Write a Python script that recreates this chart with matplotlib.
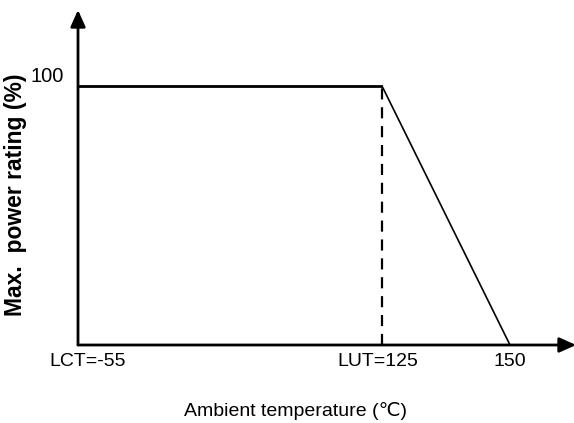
import numpy as np
import matplotlib
matplotlib.use("Agg")
import matplotlib.pyplot as plt
import matplotlib.transforms as mtransforms
from matplotlib.scale import FuncScale

# Data (schematic derating curve)
temps = [-55, 125, 150]          # ambient temperature (°C)
power = [100, 100, 0]            # max. power rating (%)
lut = 125
tick_vals = [-55, 125, 150]
tick_labels = ["LCT=-55", "LUT=125", "150"]
ytick_vals = [100]
ytick_labels = ["100"]

# schematic (non-linear) x spacing
knots_t = np.array([-55.0, 125.0, 150.0])
knots_p = np.array([0.0, 304.0, 432.0])

def fwd(t):
    t = np.asarray(t, dtype=float)
    return np.interp(t, knots_t, knots_p)

def inv(p):
    p = np.asarray(p, dtype=float)
    return np.interp(p, knots_p, knots_t)

W, H = 574, 423
fig = plt.figure(figsize=(W / 100, H / 100), dpi=100)
left, right = 78, 510
bottom, top = 345, 10
ax = fig.add_axes([left / W, 1 - bottom / H, (right - left) / W, (bottom - top) / H])
ax.set_xscale(FuncScale(ax, (fwd, inv)))
ax.set_xlim(-55, 150)
ax.set_ylim(0, 100 * (bottom - top) / (bottom - 86))

for s in ax.spines.values():
    s.set_visible(False)

# curve
ax.plot(temps[:2], power[:2], color="black", lw=2.0, solid_capstyle="butt", clip_on=False)
ax.plot(temps[1:], power[1:], color="black", lw=1.2, clip_on=False)
ax.plot([lut, lut], [0, 100], color="black", lw=1.6, dashes=(5, 3.5))

# axes with arrows
ax.annotate("", xy=((W + 2 - left) / (right - left), 0), xytext=(0, 0),
            xycoords="axes fraction",
            arrowprops=dict(arrowstyle="-|>,head_length=1.0,head_width=0.45",
                            lw=2, color="black", shrinkA=0, shrinkB=0), annotation_clip=False)
ax.annotate("", xy=(0, 1), xytext=(0, 0), xycoords="axes fraction",
            arrowprops=dict(arrowstyle="-|>,head_length=1.0,head_width=0.45",
                            lw=2, color="black", shrinkA=0, shrinkB=0), annotation_clip=False)

sans = ["Liberation Sans", "DejaVu Sans"]
ax.set_xticks(tick_vals)
ax.set_xticklabels(tick_labels, fontsize=14, family=sans)
ax.set_yticks(ytick_vals)
ax.set_yticklabels(ytick_labels, fontsize=14.5, family=sans)
ax.tick_params(axis="both", length=0)
ax.tick_params(axis="x", pad=6)
ax.tick_params(axis="y", pad=10)
for lbl in ax.get_yticklabels():
    lbl.set_verticalalignment("bottom")
# shift first x tick label to the right a bit (as in the reference)
first = ax.get_xticklabels()[0]
first.set_transform(first.get_transform() +
                    mtransforms.ScaledTranslation(10 / 100, 0, fig.dpi_scale_trans))
xl = ax.get_xticklabels()[1]
xl.set_transform(xl.get_transform() +
                 mtransforms.ScaledTranslation(-4 / 100, 0, fig.dpi_scale_trans))

ax.set_xlabel("Ambient temperature (\u2103)", fontsize=14, family=sans, va="center")
ax.xaxis.set_label_coords((296 - left) / (right - left), -(411 - bottom) / (bottom - top))
ax.set_ylabel("Max.  power rating (%)", fontsize=16.5, fontweight="bold",
              family=sans, va="center")
ax.yaxis.set_label_coords(-(left - 16) / (right - left), (bottom - 195) / (bottom - top))

fig.savefig("out.png", dpi=100)
